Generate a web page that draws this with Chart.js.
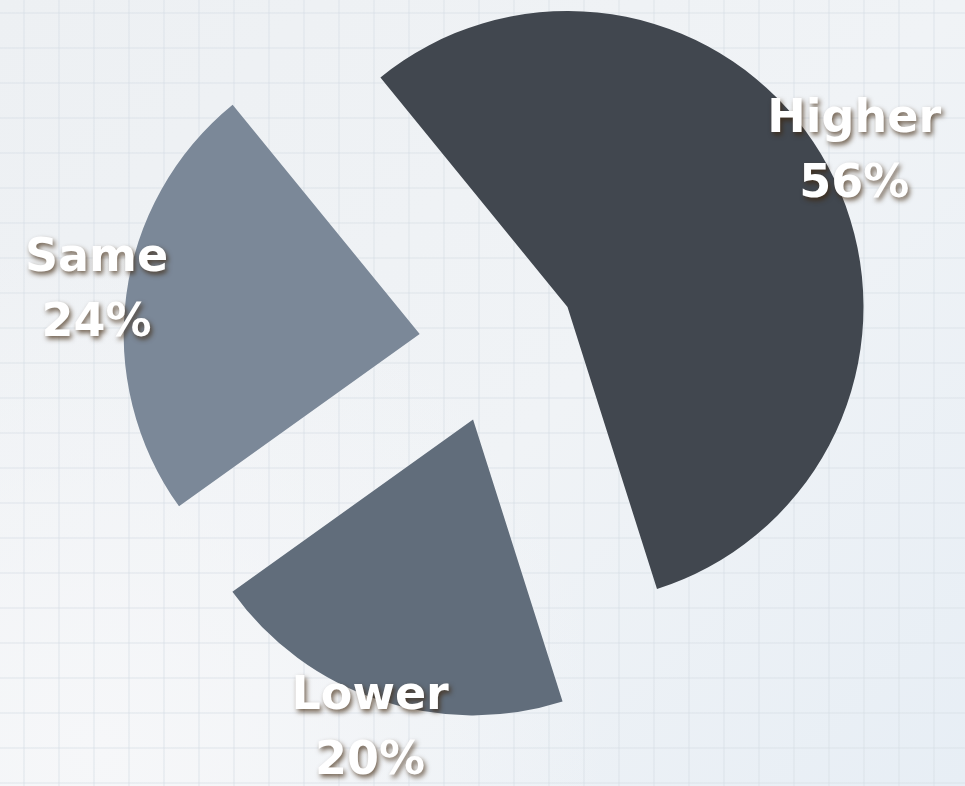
<!DOCTYPE html>
<html>
<head>
<meta charset="utf-8">
<script src="https://cdn.jsdelivr.net/npm/chart.js@4.4.1/dist/chart.umd.min.js"></script>
<style>
    html, body { margin: 0; padding: 0; }
    body {
        width: 965px;
        height: 786px;
        overflow: hidden;
        background-color: #eef1f4;
        background-image:
            linear-gradient(to right, rgba(214,221,229,0.35) 2px, transparent 2px),
            linear-gradient(to bottom, rgba(214,221,229,0.35) 2px, transparent 2px),
            radial-gradient(circle at 10% 95%, #f6f7f9 0%, rgba(246,247,249,0) 45%),
            linear-gradient(135deg, #edf0f3 0%, #f0f3f6 55%, #e7eef5 100%);
        background-size: 35px 35px, 35px 35px, 100% 100%, 100% 100%;
        background-position: 23px 12px, 23px 12px, 0 0, 0 0;
    }
    #wrap { position: absolute; left: 0; top: 0; width: 965px; height: 786px; }
</style>
</head>
<body>
<div id="wrap"><canvas id="pieChart"></canvas></div>
<script>
const categories = ['Higher', 'Lower', 'Same'];
const shares = [56, 20, 24];
const sliceColors = ['#41474f', '#616d7b', '#7b8898'];

const EXPLODE = 79;      // how far each slice is pulled out from the centre
const LABEL_DIST = 326;  // label distance from the (pulled out) slice centre

// ── Pull slices out along their bisector ──
const explodePlugin = {
    id: 'explode',
    afterDatasetUpdate(chart, args) {
        args.meta.data.forEach(arc => {
            const mid = (arc.startAngle + arc.endAngle) / 2;
            arc.x += Math.cos(mid) * EXPLODE;
            arc.y += Math.sin(mid) * EXPLODE;
        });
    }
};

// ── Two-line labels outside each slice ──
const labelPlugin = {
    id: 'sliceLabels',
    afterDatasetsDraw(chart) {
        const ctx = chart.ctx;
        const meta = chart.getDatasetMeta(0);
        ctx.save();
        ctx.font = 'bold 46px "DejaVu Sans", sans-serif';
        ctx.textAlign = 'center';
        ctx.textBaseline = 'middle';
        ctx.fillStyle = '#ffffff';
        ctx.shadowColor = 'rgba(60,35,10,0.7)';
        ctx.shadowOffsetX = 2;
        ctx.shadowOffsetY = 3;
        ctx.shadowBlur = 5;
        meta.data.forEach((arc, i) => {
            const mid = (arc.startAngle + arc.endAngle) / 2;
            const x = arc.x + Math.cos(mid) * LABEL_DIST;
            const y = arc.y + Math.sin(mid) * LABEL_DIST;
            ctx.fillText(categories[i], x, y - 32);
            ctx.fillText(`${shares[i]}%`, x, y + 33);
        });
        ctx.restore();
    }
};

new Chart(document.getElementById('pieChart'), {
    type: 'pie',
    data: {
        labels: categories,
        datasets: [{
            data: shares,
            backgroundColor: sliceColors,
            borderWidth: 0,
        }]
    },
    options: {
        responsive: true,
        maintainAspectRatio: false,
        animation: false,
        rotation: -39.2,
        radius: 296,
        layout: { padding: { left: 31, right: 0, top: 0, bottom: 97 } },
        plugins: {
            legend: { display: false },
            tooltip: { enabled: false }
        }
    },
    plugins: [explodePlugin, labelPlugin]
});
</script>
</body>
</html>
